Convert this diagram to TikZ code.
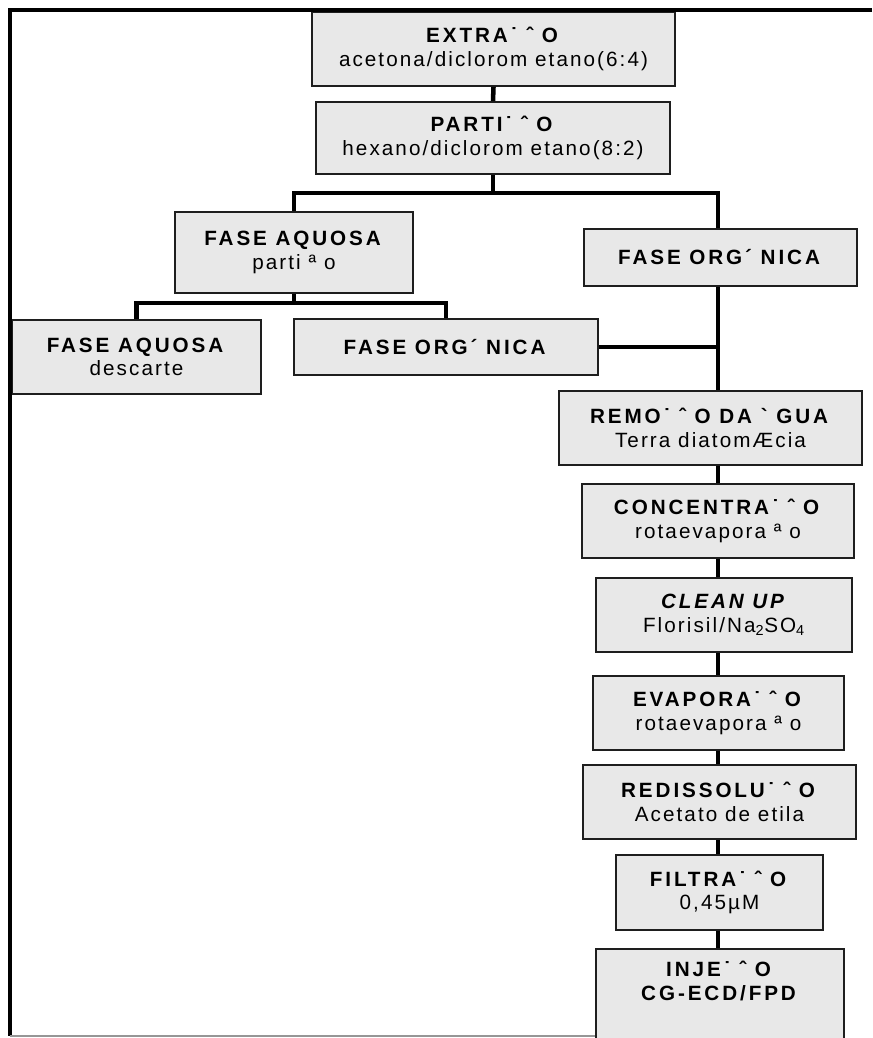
\documentclass[tikz,border=0pt]{standalone}
\usepackage{fontspec}
\setmainfont{Liberation Sans}[Ligatures=TeXOff,LetterSpace=10,
  BoldFeatures={LetterSpace=14},BoldItalicFeatures={LetterSpace=14}]

\tikzset{every picture/.style={line width=0.75pt}}
\tikzset{
  caixa/.style={draw={rgb, 255:red, 30; green, 30; blue, 30 }, line width=1.3pt,
    fill={rgb, 255:red, 232; green, 232; blue, 232 }, inner sep=0pt, align=center,
    font=\fontsize{15.5}{17.5}\selectfont},
  tam/.style 2 args={minimum width=#1*0.75pt, minimum height=#2*0.75pt},
  ligacao/.style={line width=3.4pt},
  moldura/.style={line width=2.6pt},
}

\begin{document}
\begin{tikzpicture}[x=0.75pt,y=0.75pt,yscale=-1,xscale=1]
\useasboundingbox (0,0) rectangle (872,1038);

%Coordinates
\coordinate (tronco) at (718,0);
\coordinate (canto) at (10,1036);
\coordinate (b1) at (493,193);
\coordinate (b2) at (294,303);

%Shape: Rectangle
\draw (493.5,49) node [caixa, tam={363}{74}] (extracao) {\textbf{EXTRA˙ ˆ O}\\acetona/diclorom etano(6:4)};
%Shape: Rectangle
\draw (493,138) node [caixa, tam={354}{72}] (particao) {\textbf{PARTI˙ ˆ O}\\hexano/diclorom etano(8:2)};
%Shape: Rectangle
\draw (294,252.5) node [caixa, tam={238}{81}] (aquosa1) {\textbf{FASE AQUOSA}\\parti ª o};
%Shape: Rectangle
\draw (720.5,257.5) node [caixa, tam={273}{57}] (organica1) {\textbf{FASE ORG´ NICA}};
%Shape: Rectangle
\draw (136.5,357) node [caixa, tam={249}{74}] (aquosa2) {\textbf{FASE AQUOSA}\\descarte};
%Shape: Rectangle
\draw (446,347) node [caixa, tam={304}{56}] (organica2) {\textbf{FASE ORG´ NICA}};
%Shape: Rectangle
\draw (710.5,428) node [caixa, tam={303}{74}] (remocao) {\textbf{REMO˙ ˆ O DA ` GUA}\\Terra diatomÆcia};
%Shape: Rectangle
\draw (718,521) node [caixa, tam={272}{74}] (concentracao) {\textbf{CONCENTRA˙ ˆ O}\\rotaevapora ª o};
%Shape: Rectangle
\draw (724,615) node [caixa, tam={256}{74}] (cleanup) {\textbf{\textit{CLEAN UP}}\\Florisil/Na\textsubscript{2}SO\textsubscript{4}};
%Shape: Rectangle
\draw (718.5,713) node [caixa, tam={251}{74}] (evaporacao) {\textbf{EVAPORA˙ ˆ O}\\rotaevapora ª o};
%Shape: Rectangle
\draw (719.5,802) node [caixa, tam={273}{74}] (redissolucao) {\textbf{REDISSOLU˙ ˆ O}\\Acetato de etila};
%Shape: Rectangle
\draw (719.5,892.5) node [caixa, tam={207}{75}] (filtracao) {\textbf{FILTRA˙ ˆ O}\\0,45µM};
%Shape: Rectangle
\draw (720,948) node [caixa, tam={248}{130}, anchor=north] (injecao) {};

%Straight Lines
\draw [moldura] (872,10) -- (10,10) -- (canto) ;
%Straight Lines
\draw [color={rgb, 255:red, 150; green, 150; blue, 150 }, line width=1pt] (canto) -- (canto -| injecao.west) ;
%Straight Lines
\draw [ligacao] (extracao.south) -- (particao.north) ;
%Straight Lines
\draw [ligacao] (particao.south) -- (b1) ;
%Straight Lines
\draw [ligacao] (aquosa1.north) |- (b1) -| (organica1.north -| tronco) ;
%Straight Lines
\draw [ligacao] (aquosa1.south) -- (b2) ;
%Straight Lines
\draw [ligacao] (aquosa2.north) |- (b2) -| (organica2.north) ;
%Straight Lines
\draw [ligacao] (organica1.south -| tronco) -- (remocao.north -| tronco) ;
%Straight Lines
\draw [ligacao] (organica2.east) -- (organica2.east -| tronco) ;
%Straight Lines
\draw [ligacao] (remocao.south -| tronco) -- (concentracao.north -| tronco) ;
%Straight Lines
\draw [ligacao] (concentracao.south -| tronco) -- (cleanup.north -| tronco) ;
%Straight Lines
\draw [ligacao] (cleanup.south -| tronco) -- (evaporacao.north -| tronco) ;
%Straight Lines
\draw [ligacao] (evaporacao.south -| tronco) -- (redissolucao.north -| tronco) ;
%Straight Lines
\draw [ligacao] (redissolucao.south -| tronco) -- (filtracao.north -| tronco) ;
%Straight Lines
\draw [ligacao] (filtracao.south -| tronco) -- (injecao.north -| tronco) ;

% Text Node
\draw (injecao.north) ++(0,12) node [anchor=north, align=center, inner sep=0.75pt, font=\fontsize{15.5}{17.5}\selectfont] (injtexto) {\textbf{INJE˙ ˆ O}\\\textbf{CG-ECD/FPD}};

\end{tikzpicture}
\end{document}
